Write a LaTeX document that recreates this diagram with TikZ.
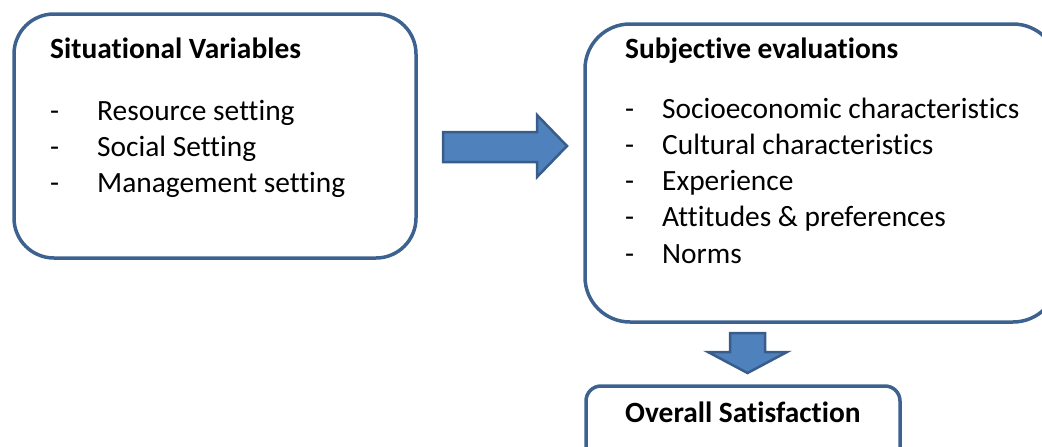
\documentclass[tikz,border=0pt]{standalone}
\usepackage{fontspec}
\setmainfont{Carlito}[Ligatures=NoCommon]
\definecolor{boxline}{RGB}{62,98,144}
\definecolor{arrowfill}{RGB}{79,129,189}
\definecolor{arrowline}{RGB}{56,93,138}

\begin{document}
\begin{tikzpicture}[x=1pt,y=-1pt]
            \tikzstyle{every node}+=[inner sep=0pt, anchor=base west, font=\fontsize{29.4}{35}\selectfont]
            \tikzstyle{box}=[draw=boxline, line width=3.5pt]
            \tikzstyle{blockarrow}=[fill=arrowfill, draw=arrowline, line width=2.5pt, line join=miter]
            \useasboundingbox (0,0) rectangle (1042,447);
            % boxes
            \draw [box, rounded corners=40pt] (14,14) rectangle (416,258);
            \draw [box, rounded corners=45pt] (585,24) rectangle (1058,322);
            \draw [box, rounded corners=15pt] (586,386) rectangle (900,470);
            % block arrows
            \draw [blockarrow] (443,132) -- (537,132) -- (537,115) -- (567,146) -- (537,177) -- (537,162) -- (443,162) -- cycle;
            \draw [blockarrow] (730,333) -- (765,333) -- (765,352) -- (787,352) -- (747.5,373) -- (708,352) -- (730,352) -- cycle;
            % situational variables
            \node (sitTitle) at (50,58) {\bfseries Situational Variables};
            \foreach \txt [count=\i] in {Resource setting, Social Setting, Management setting} {
              \node (sitDash\i) at (50,{120+(\i-1)*36}) {-};
              \node (sitItem\i) at (97,{120+(\i-1)*36}) {\txt};
            }
            % subjective evaluations
            \node (subTitle) at (625,58) {\bfseries Subjective evaluations};
            \foreach \txt [count=\i] in {Socioeconomic characteristics, Cultural characteristics, Experience, Attitudes \& preferences, Norms} {
              \node (subDash\i) at (625,{118+(\i-1)*36.3}) {-};
              \node (subItem\i) at (662,{118+(\i-1)*36.3}) {\txt};
            }
            % overall satisfaction
            \node (overall) at (625,422) {\bfseries Overall Satisfaction};
\end{tikzpicture}
\end{document}
